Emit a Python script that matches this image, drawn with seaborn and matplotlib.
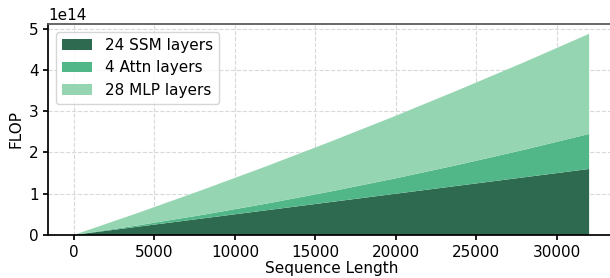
import numpy as np
import matplotlib
matplotlib.use("Agg")
import matplotlib.pyplot as plt
import seaborn as sns

# sequence lengths and FLOP per block type (units of 1e14)
seq_len = [0, 4000, 8000, 12000, 16000, 20000, 24000, 28000, 32000]
ssm_flop = [0, 0.20, 0.40, 0.60, 0.80, 1.00, 1.20, 1.40, 1.60]
attn_flop = [0, 0.033, 0.087, 0.162, 0.258, 0.374, 0.512, 0.670, 0.85]
mlp_flop = [0, 0.304, 0.608, 0.911, 1.215, 1.519, 1.823, 2.126, 2.43]
labels = ["24 SSM layers", "4 Attn layers", "28 MLP layers"]
colors = ["#2d6a4f", "#52b788", "#95d5b2"]

sns.set_theme(style="ticks", rc={
    "text.color": "black", "axes.labelcolor": "black",
    "xtick.color": "black", "ytick.color": "black",
    "axes.edgecolor": "black", "xtick.major.size": 3.5,
    "ytick.major.size": 3.5, "patch.edgecolor": "none",
})
plt.rcParams['font.family'] = ['DejaVu Sans']

fig = plt.figure(figsize=(6.1, 2.78), dpi=100)
ax = fig.add_axes([0.079, 0.155, 0.929, 0.759])

ys = [np.array(v) * 1e14 for v in (ssm_flop, attn_flop, mlp_flop)]
ax.stackplot(seq_len, *ys, labels=labels, colors=colors, linewidth=0)

ax.grid(True, linestyle="--", color="#d9d9d9", linewidth=0.8)
ax.set_axisbelow(True)
ax.set_xlabel("Sequence Length", fontsize=11, labelpad=1)
ax.set_ylabel("FLOP", fontsize=11)
ax.tick_params(labelsize=11)
ax.yaxis.get_offset_text().set_fontsize(11)
ax.set_xticks([0, 5000, 10000, 15000, 20000, 25000, 30000])
ax.set_yticks([0, 1e14, 2e14, 3e14, 4e14, 5e14])
ax.set_xlim(-1600, 33600)
ax.set_ylim(0, 5.12e14)
ax.spines["right"].set_visible(False)
ax.spines["top"].set_color("#555555")
ax.legend(loc="upper left", fontsize=11)

fig.savefig("out.png", dpi=100)
